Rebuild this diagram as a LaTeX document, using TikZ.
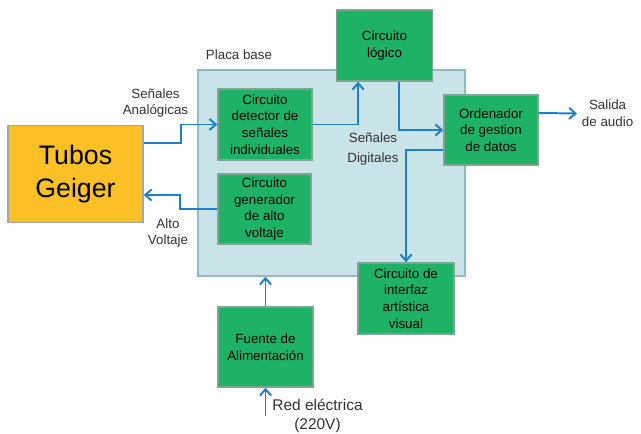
\documentclass[tikz,border=0pt]{standalone}
\usepackage{fontspec}
\setmainfont{Liberation Sans}
\usepackage{tikz}
\usetikzlibrary{arrows.meta}

\definecolor{verdecaja}{RGB}{30,178,102}
\definecolor{bordeverde}{RGB}{125,165,145}
\definecolor{celeste}{RGB}{200,228,232}
\definecolor{bordeceleste}{RGB}{145,185,192}
\definecolor{naranja}{RGB}{250,192,38}
\definecolor{azulflecha}{RGB}{30,128,200}
\definecolor{textogris}{RGB}{50,50,50}

\begin{document}
\begin{tikzpicture}[x=0.025cm,y=-0.025cm,
  caja/.style={draw=bordeverde,line width=1pt,fill=verdecaja,align=center,
    inner sep=1pt,font=\fontsize{9.5}{11.8}\selectfont},
  etiqueta/.style={align=center,text=textogris,font=\fontsize{9.5}{11.8}\selectfont},
  flecha/.style={draw=azulflecha,line width=1.4pt,
    -{Straight Barb[length=1.6mm,width=2.8mm,line width=1.4pt]}}]
\useasboundingbox (0,0) rectangle (641,434);

\node[draw=bordeceleste,line width=1pt,fill=celeste,minimum width=6.675cm,
  minimum height=5.15cm] (placa) at (331.5,173) {};
\node[etiqueta] (placalbl) at (239,55) {Placa base};

\node[draw=gray!70,line width=1pt,fill=naranja,align=center,minimum width=3.375cm,
  minimum height=2.425cm,font=\fontsize{19}{23.4}\selectfont] (tubos) at (75.5,174) {Tubos\\Geiger};

\node[caja,minimum width=2.35cm,minimum height=1.775cm] (detector) at (265,124.5)
  {Circuito\\detector de\\señales\\individuales};
\node[caja,minimum width=2.325cm,minimum height=1.75cm] (generador) at (264.5,209)
  {Circuito\\generador\\de alto\\voltaje};
\node[caja,minimum width=2.4cm,minimum height=1.775cm] (logico) at (384.5,45.5)
  {Circuito\\lógico};
\node[caja,minimum width=2.35cm,minimum height=1.75cm] (ordenador) at (491,130)
  {Ordenador\\de gestion\\de datos};
\node[caja,minimum width=2.4cm,minimum height=1.775cm] (interfaz) at (406,298.5)
  {Circuito de\\interfaz\\artística\\visual};
\node[caja,minimum width=2.375cm,minimum height=2cm] (fuente) at (265.5,347)
  {Fuente de\\Alimentación};

\node[etiqueta] (analog) at (155.5,103) {Señales\\Analógicas};
\node[etiqueta] (alto) at (168,233) {Alto\\Voltaje};
\node[etiqueta,font=\fontsize{9.5}{14}\selectfont] (digital) at (373,149) {Señales\\Digitales};
\node[etiqueta,anchor=west] (salida) at (577,113.5) {Salida\\de audio};
\node[align=center,text=textogris,font=\fontsize{11}{13.5}\selectfont] (red) at (317.5,416)
  {Red eléctrica\\(220V)};

\coordinate (b1) at (181,124.5);
\coordinate (b2) at (180,195);

\draw[flecha] ([yshift=7.75mm]tubos.east) -| (b1) -- (detector.west);
\draw[flecha] (generador.west) -| (b2) -- (b2 -| tubos.east);
\draw[flecha] (detector.east) -| ([xshift=-6.6mm]logico.south);
\draw[flecha] ([xshift=3.6mm]logico.south) |- (ordenador.west);
\draw[flecha] ([yshift=-5mm]ordenador.west) -| (interfaz.north);
\draw[flecha] ([yshift=4.25mm]ordenador.east) -- (salida.west);
\draw[flecha] (fuente.north) -- (fuente.north |- placa.south);
\draw[flecha] (fuente.south |- red.west) -- (fuente.south);
\end{tikzpicture}
\end{document}
